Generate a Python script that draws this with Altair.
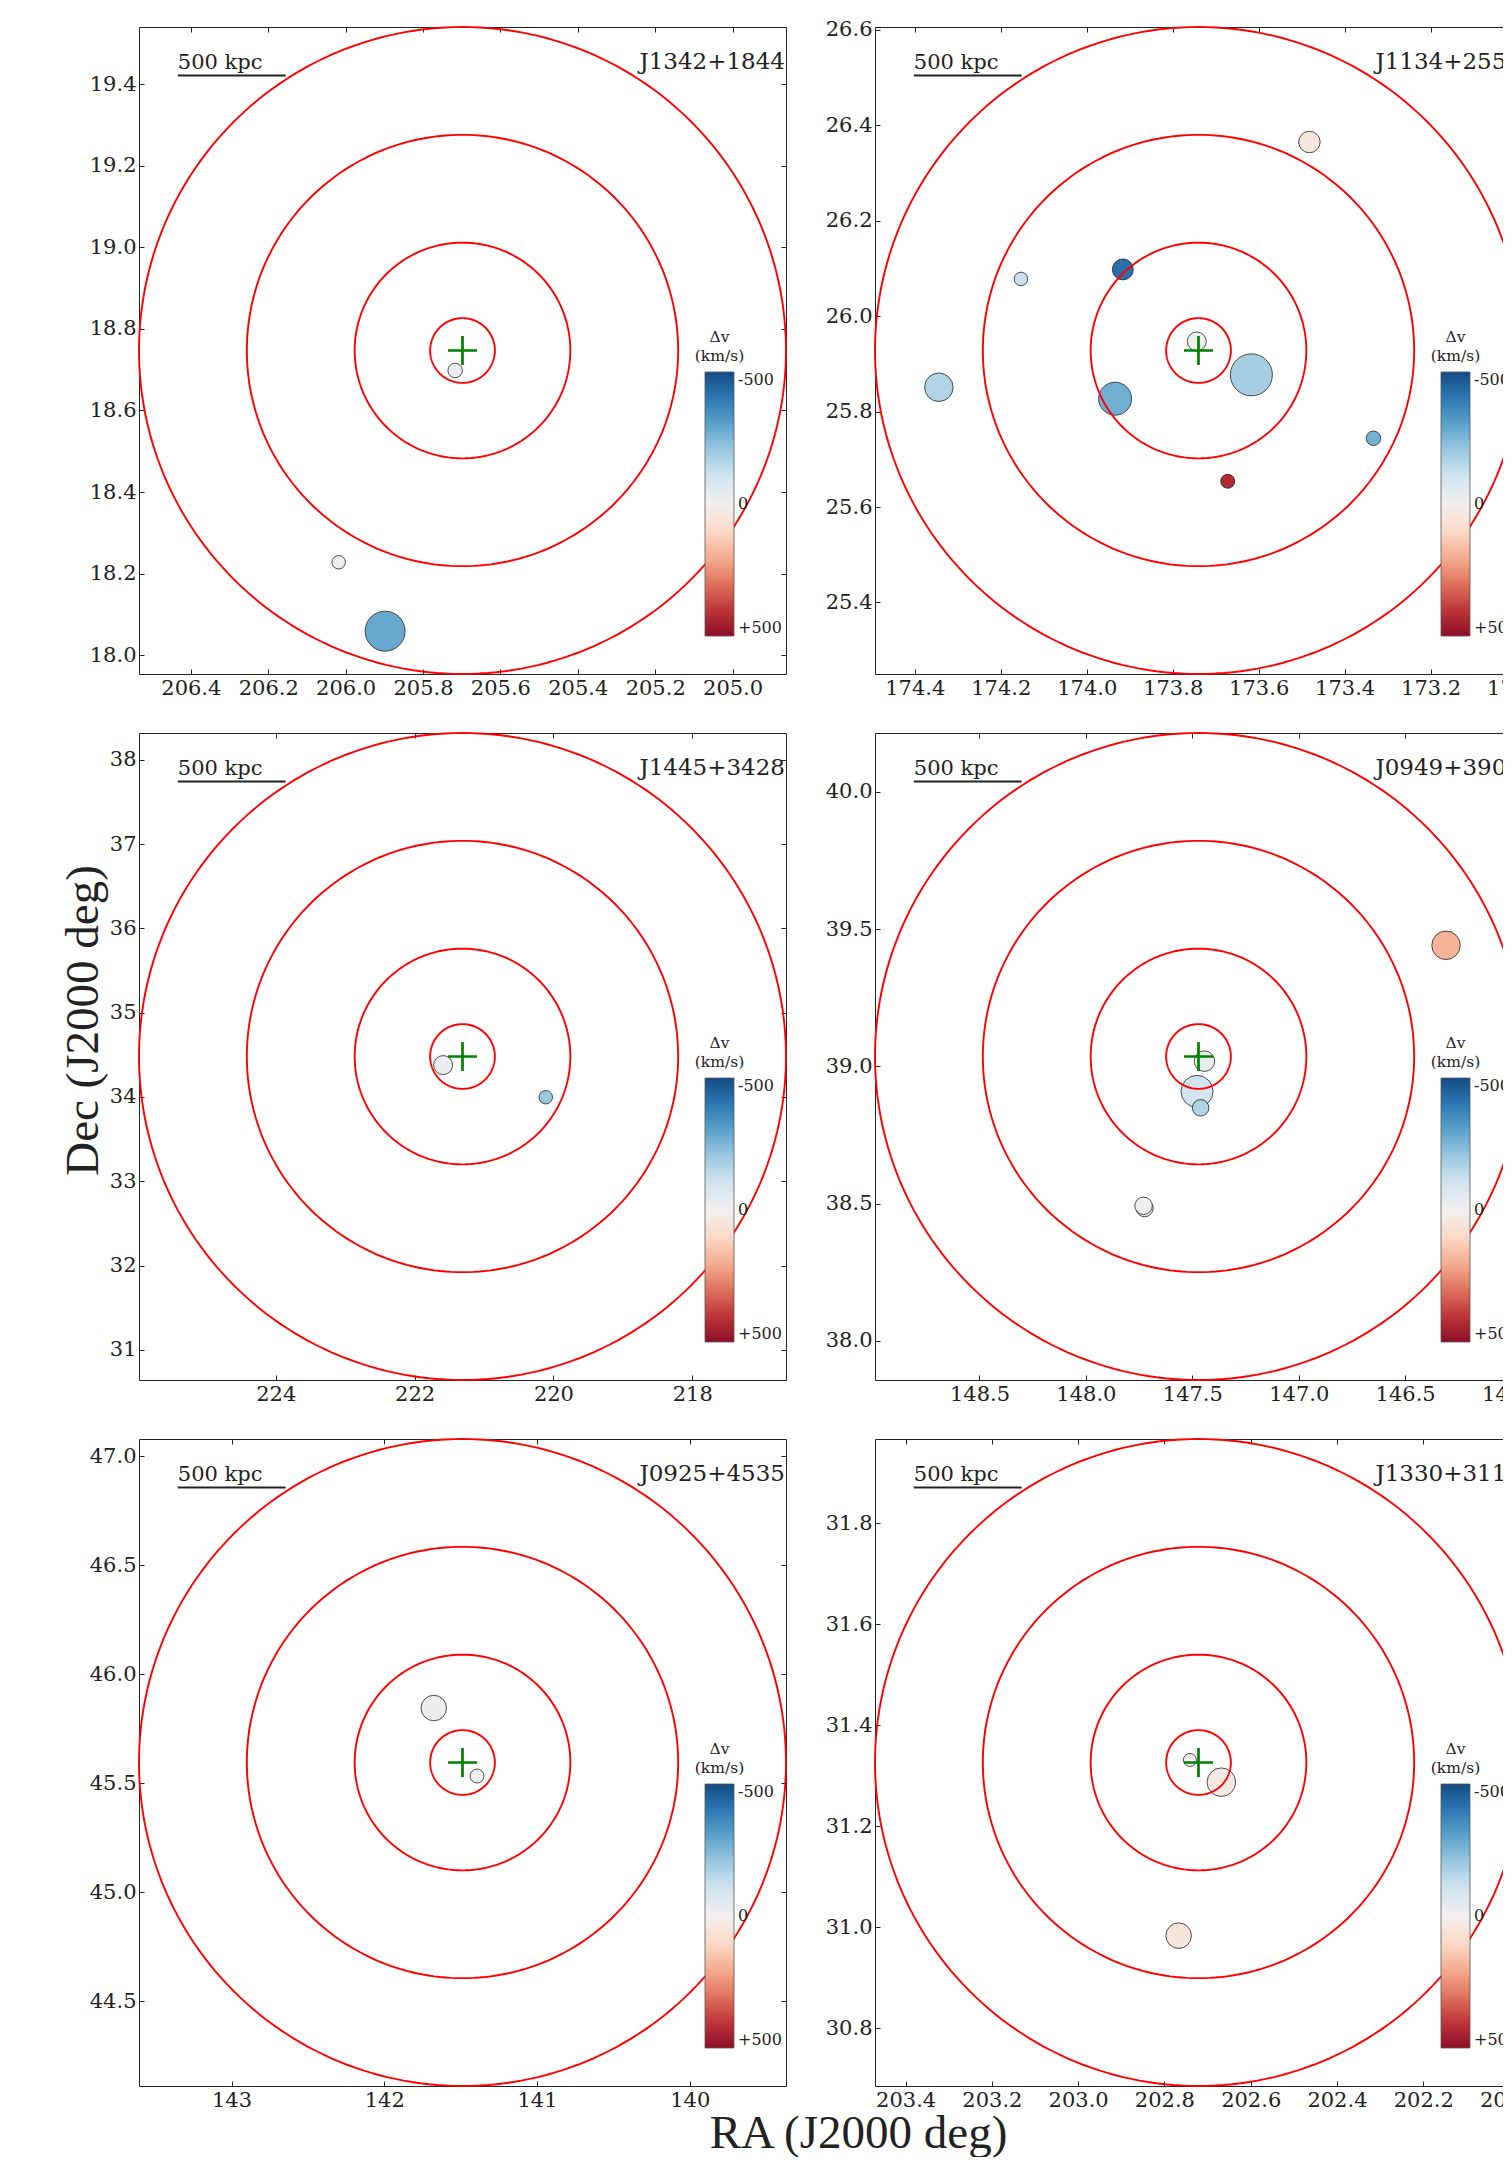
import math
import altair as alt
import pandas as pd

# ---------------- data ----------------
FIELDS = ["J1342+1844", "J1134+2555", "J1445+3428", "J0949+3902", "J0925+4535", "J1330+3119"]
CENTER_RA = [205.698, 173.740, 221.310, 147.471, 141.488, 202.721]
CENTER_DEC = [18.747, 25.928, 34.480, 39.036, 45.595, 31.326]
# half width of each panel (= 1500 kpc) in degrees
HALF_RA = [0.836, 0.7525, 4.660, 1.520, 2.118, 0.750]
HALF_DEC = [0.793, 0.678, 3.838, 1.1785, 1.485, 0.6408]

X_TICKS = [
    [206.4, 206.2, 206.0, 205.8, 205.6, 205.4, 205.2, 205.0],
    [174.4, 174.2, 174.0, 173.8, 173.6, 173.4, 173.2, 173.0],
    [224, 222, 220, 218],
    [148.5, 148.0, 147.5, 147.0, 146.5, 146.0],
    [143, 142, 141, 140],
    [203.4, 203.2, 203.0, 202.8, 202.6, 202.4, 202.2, 202.0],
]
Y_TICKS = [
    [18.0, 18.2, 18.4, 18.6, 18.8, 19.0, 19.2, 19.4],
    [25.4, 25.6, 25.8, 26.0, 26.2, 26.4, 26.6],
    [31, 32, 33, 34, 35, 36, 37, 38],
    [38.0, 38.5, 39.0, 39.5, 40.0],
    [44.5, 45.0, 45.5, 46.0, 46.5, 47.0],
    [30.8, 31.0, 31.2, 31.4, 31.6, 31.8],
]
X_FMT = [".1f", ".1f", "d", ".1f", "d", ".1f"]
Y_FMT = [".1f", ".1f", "d", ".1f", ".1f", ".1f"]

GAL_RA = [
    [205.717, 206.018, 205.898],
    [173.482, 174.153, 173.916, 173.744, 174.344, 173.934, 173.617, 173.333, 173.672],
    [221.589, 220.111],
    [146.308, 147.443, 147.478, 147.461, 147.724, 147.729],
    [141.676, 141.393],
    [202.741, 202.668, 202.767],
]
GAL_DEC = [
    [18.698, 18.228, 18.059],
    [26.365, 26.078, 26.098, 25.947, 25.851, 25.827, 25.877, 25.744, 25.654],
    [34.378, 33.997],
    [39.441, 39.019, 38.909, 38.849, 38.483, 38.492],
    [45.845, 45.533],
    [31.331, 31.287, 30.983],
]
GAL_DV = [
    [-20, -15, -285],
    [40, -115, -420, -15, -165, -270, -185, -265, 430],
    [-20, -205],
    [190, -25, -100, -165, 15, -5],
    [-15, -15],
    [-5, 30, 55],
]
GAL_MARK = [
    [14.5, 13.5, 40],
    [21.5, 13.5, 21, 19, 28.5, 33, 42, 14.5, 14],
    [19, 13.5],
    [28.5, 20.5, 32, 16.5, 17, 17.5],
    [25.5, 14],
    [13, 28.5, 25.5],
]

RING_KPC = [150, 500, 1000, 1500]
PANEL_HALF_KPC = 1500
SCALEBAR_KPC = 500

PANEL = 647
SERIF = "DejaVu Serif"
INK = "#222222"


def panel(i):
    ra0, dec0, hr, hd = CENTER_RA[i], CENTER_DEC[i], HALF_RA[i], HALF_DEC[i]
    xs = alt.Scale(domain=[ra0 + hr, ra0 - hr], nice=False, zero=False)
    ys = alt.Scale(domain=[dec0 - hd, dec0 + hd], nice=False, zero=False)

    gal = pd.DataFrame({"ra": GAL_RA[i], "dec": GAL_DEC[i], "dv": GAL_DV[i], "mark": GAL_MARK[i]})

    rows = []
    npts = 240
    for r in RING_KPC:
        f = r / PANEL_HALF_KPC
        for k in range(npts + 1):
            t = 2 * math.pi * k / npts
            rows.append({"ring": r, "k": k,
                         "ra": ra0 + hr * f * math.cos(t),
                         "dec": dec0 + hd * f * math.sin(t)})
    rings = pd.DataFrame(rows)

    center = pd.DataFrame({"ra": [ra0], "dec": [dec0]})

    # scale bar (500 kpc) near top-left corner
    x_start = ra0 + hr - 0.06 * 2 * hr
    x_end = x_start - hr * SCALEBAR_KPC / PANEL_HALF_KPC
    bar = pd.DataFrame({"ra": [x_start], "ra2": [x_end],
                        "dec": [dec0 + hd - 0.075 * 2 * hd],
                        "dect": [dec0 + hd - 0.065 * 2 * hd],
                        "label": [f"{SCALEBAR_KPC} kpc"]})

    # axes
    bx_kw = dict(orient="bottom", values=X_TICKS[i], format=X_FMT[i], offset=-5, tickSize=5,
                 tickColor=INK, tickWidth=1, domain=False, grid=False, labelFont=SERIF,
                 labelFontSize=21, labelColor=INK, labelPadding=3, labelOverlap=False,
                 labelFlush=False)
    if i == 4:
        bx_kw.update(title="RA (J2000 deg)", titleX=719, titleY=66, titleFont="Liberation Serif",
                     titleFontSize=47, titleFontWeight="normal", titleColor=INK,
                     titleAlign="center", titleBaseline="alphabetic", titleAngle=0)
    else:
        bx_kw.update(title=None)
    ly_kw = dict(orient="left", values=Y_TICKS[i], format=Y_FMT[i], offset=-5, tickSize=5,
                 tickColor=INK, tickWidth=1, domain=False, grid=False, labelFont=SERIF,
                 labelFontSize=21, labelColor=INK, labelPadding=3, labelOverlap=False,
                 labelFlush=False)
    if i == 2:
        ly_kw.update(title="Dec (J2000 deg)", titleX=-47, titleY=287, titleFont="Liberation Serif",
                     titleFontSize=47, titleFontWeight="normal", titleColor=INK,
                     titleAlign="center", titleBaseline="alphabetic", titleAngle=270)
    else:
        ly_kw.update(title=None)

    tx_axis = alt.Axis(orient="top", values=X_TICKS[i], labels=False, offset=-5, tickSize=5,
                       tickColor=INK, tickWidth=1, domain=False, grid=False, title=None)
    ry_axis = alt.Axis(orient="right", values=Y_TICKS[i], labels=False, offset=-5, tickSize=5,
                       tickColor=INK, tickWidth=1, domain=False, grid=False, title=None)

    legend = alt.Legend(orient="none", legendX=566, legendY=345, direction="vertical",
                        title=None, gradientLength=264, gradientThickness=29,
                        values=[-500, 0, 500],
                        labelExpr="datum.value > 0 ? '+' + datum.value : '' + datum.value",
                        labelFont=SERIF, labelFontSize=16, labelColor=INK, labelOffset=4,
                        labelBaseline="middle", labelOverlap=False,
                        gradientStrokeColor="#555555", gradientStrokeWidth=0.8, padding=0)

    gal_layer = alt.Chart(gal).mark_circle(stroke=INK, strokeWidth=0.8, opacity=1).encode(
        x=alt.X("ra:Q", scale=xs, axis=None),
        y=alt.Y("dec:Q", scale=ys, axis=None),
        color=alt.Color("dv:Q", scale=alt.Scale(domain=[500, -500], scheme="redblue", nice=False),
                        legend=legend),
        size=alt.Size("mark:Q", scale=alt.Scale(type="pow", exponent=2, domain=[0, 50],
                                                range=[0, 2500]), legend=None),
    )

    ring_layer = alt.Chart(rings).mark_line(color="#ff0000", strokeWidth=1.9).encode(
        x=alt.X("ra:Q", scale=xs, axis=alt.Axis(**bx_kw)),
        y=alt.Y("dec:Q", scale=ys, axis=alt.Axis(**ly_kw)),
        detail="ring:N",
        order="k:Q",
    )

    cross_layer = alt.Chart(center).mark_point(
        shape="M-1,0L1,0M0,-1L0,1", size=841, stroke="#008000", strokeWidth=2.7,
        filled=False, opacity=1
    ).encode(
        x=alt.X("ra:Q", scale=xs, axis=tx_axis),
        y=alt.Y("dec:Q", scale=ys, axis=ry_axis),
    )

    bar_layer = alt.Chart(bar).mark_rule(color=INK, strokeWidth=2).encode(
        x=alt.X("ra:Q", scale=xs, axis=None),
        x2="ra2:Q",
        y=alt.Y("dec:Q", scale=ys, axis=None),
    )
    bar_text = alt.Chart(bar).mark_text(align="left", baseline="alphabetic", font=SERIF,
                                        fontSize=21, color=INK).encode(
        x=alt.X("ra:Q", scale=xs, axis=None),
        y=alt.Y("dect:Q", scale=ys, axis=None),
        text="label:N",
    )

    name_df = pd.DataFrame({"name": [FIELDS[i]]})
    name_text = alt.Chart(name_df).mark_text(align="right", baseline="alphabetic", font=SERIF,
                                             fontSize=23, color=INK).encode(
        x=alt.value(PANEL - 1), y=alt.value(42), text="name:N")

    cb_title = alt.Chart(name_df).mark_text(align="center", baseline="alphabetic", font=SERIF,
                                            fontSize=15.5, color=INK, lineHeight=18.5,
                                            text=["\u0394v", "(km/s)"]).encode(
        x=alt.value(580.5), y=alt.value(315))

    return alt.layer(gal_layer, ring_layer, cross_layer, bar_layer, bar_text, name_text,
                     cb_title).resolve_axis(x="independent", y="independent").properties(
        width=PANEL, height=PANEL)


chart = alt.concat(*[panel(i) for i in range(6)], columns=2,
                   spacing=alt.RowColnumber(row=59, column=89), bounds="flush").resolve_scale(
    color="independent", size="independent").resolve_legend(color="independent").properties(
    padding={"left": 50, "top": 10, "right": -45, "bottom": 0}, background="white"
).configure_view(stroke=INK, strokeWidth=1)

chart.save("out.html", embed_options={"renderer": "svg", "actions": False})
